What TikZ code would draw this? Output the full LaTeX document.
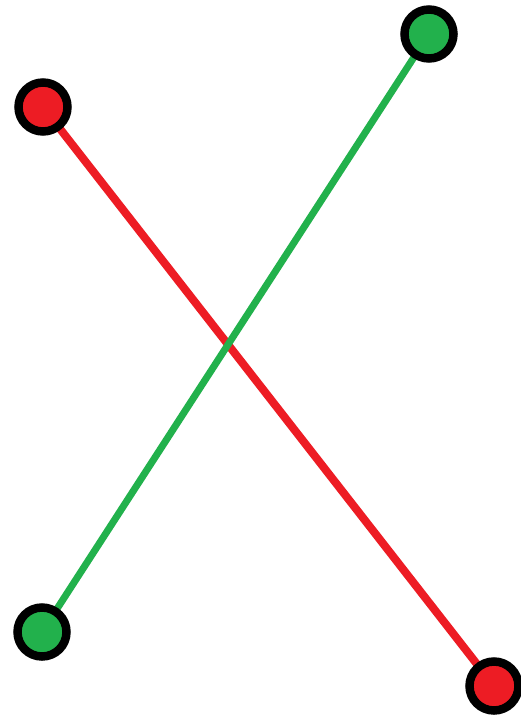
\documentclass[tikz,border=0pt]{standalone}
\definecolor{pred}{HTML}{ED1C24}
\definecolor{pgreen}{HTML}{22B14C}
\tikzset{
  dot/.style={circle, draw=black, line width=8.5bp, inner sep=0pt, minimum size=49bp},
  reddot/.style={dot, fill=pred},
  greendot/.style={dot, fill=pgreen},
  redline/.style={pred, line width=8bp},
  greenline/.style={pgreen, line width=7bp}
}
\begin{document}
\begin{tikzpicture}[x=1bp,y=-1bp]
\useasboundingbox[fill=white] (0,0) rectangle (521,719);
\coordinate (r1) at (43,107);
\coordinate (r2) at (494,686);
\coordinate (g1) at (429,34);
\coordinate (g2) at (42,632);
\draw[redline] (r1) -- (r2);
\draw[greenline] (g1) -- (g2);
\node[reddot] (R1) at (r1) {};
\node[reddot] (R2) at (r2) {};
\node[greendot] (G1) at (g1) {};
\node[greendot] (G2) at (g2) {};
\end{tikzpicture}
\end{document}
